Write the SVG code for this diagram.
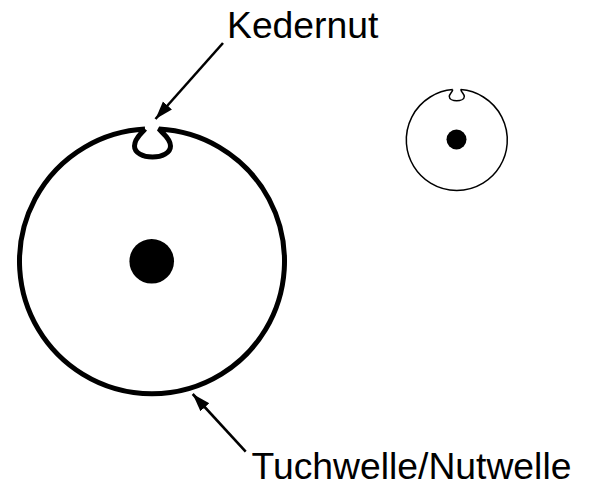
<svg xmlns="http://www.w3.org/2000/svg" width="592" height="483" viewBox="0 0 592 483">
<style>
text{font-family:"Liberation Sans",Arial,sans-serif;fill:#000}
.c{fill:none;stroke:#000;stroke-linejoin:bevel;stroke-linecap:butt}
.d{fill:#000}
.a{stroke:#000;stroke-width:2.6;fill:none}
</style>
<defs><marker id="h" markerUnits="userSpaceOnUse" markerWidth="20" markerHeight="14" refX="18" refY="6" orient="auto" viewBox="0 0 20 12"><path d="M0 0L18 6L0 12Z" fill="#000"/></marker></defs>
<rect width="592" height="483" fill="#fff"/>
<g id="large-shaft">
<path class="c" stroke-width="5" d="M145 129A132.500 132.500 0 1 0 159 129C162 133 170.500 138 170.500 146C170.500 153 162 157 152.500 157C143 157 134.500 153 134.500 146C134.500 138 142 133 145 129"/>
<circle class="d" cx="151.700" cy="261.300" r="22.300"/>
</g>
<g id="small-shaft">
<path class="c" stroke-width="1.500" d="M452.800 89.600A50.500 50.500 0 1 0 460.800 89.600C461.500 92.500 464.300 94 464.300 96.500C464.300 99.300 460.500 100.800 456.700 100.800C453 100.800 449.300 99.300 449.300 96.500C449.300 94 452.100 92.500 452.800 89.600"/>
<circle class="d" cx="456.500" cy="139.500" r="10"/>
</g>
<g id="connectors">
<line class="a" x1="223" y1="43" x2="155.500" y2="119" marker-end="url(#h)"/>
<line class="a" x1="245.700" y1="451.700" x2="192.700" y2="394" marker-end="url(#h)"/>
</g>
<g id="labels">
<text x="227" y="37.500" font-size="37.300">Kedernut</text>
<text x="251.500" y="479" font-size="37.300">Tuchwelle/Nutwelle</text>
</g>
</svg>
